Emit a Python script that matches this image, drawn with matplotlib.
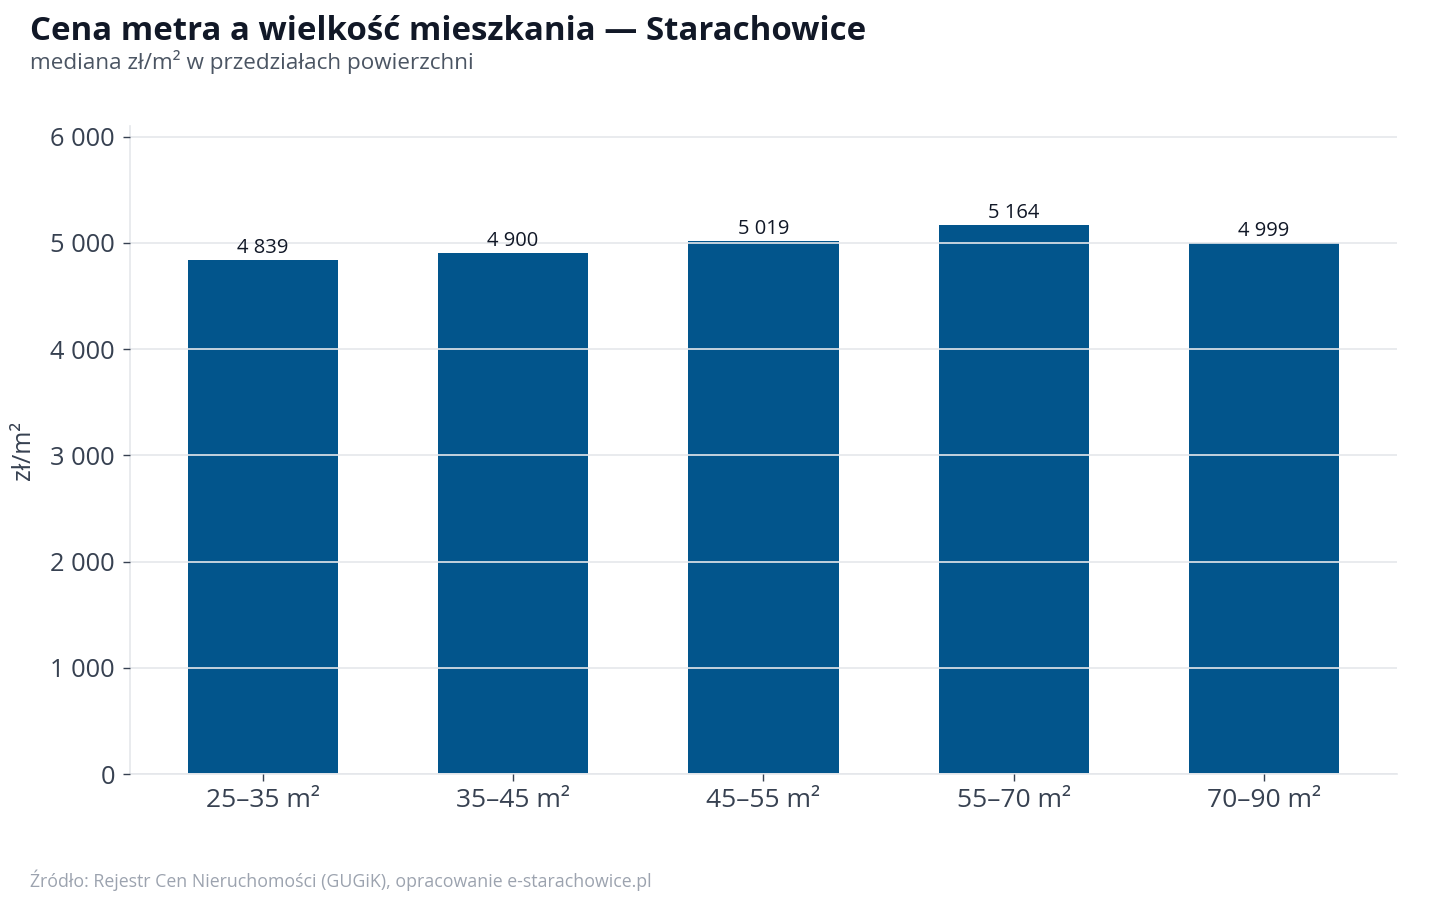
import matplotlib.pyplot as plt
from matplotlib.ticker import FuncFormatter

plt.rcParams['font.family'] = ['Open Sans', 'DejaVu Sans']

# data
categories = ['25–35 m²', '35–45 m²', '45–55 m²', '55–70 m²', '70–90 m²']
median_price = [4839, 4900, 5019, 5164, 4999]
y_ticks = [0, 1000, 2000, 3000, 4000, 5000, 6000]

bar_color = '#02558c'
grid_color = '#e5e7eb'
text_dark = '#111827'
text_mid = '#374151'


def fmt_pl(v, pos=None):
    return f'{int(round(v)):,}'.replace(',', ' ')


fig = plt.figure(figsize=(14.4, 9), dpi=100)
ax = fig.add_axes([0.0903, 0.14, 0.8797, 0.72])

x = range(len(categories))
bars = ax.bar(x, median_price, width=0.6, color=bar_color, zorder=1)

# grid on top of bars
ax.set_axisbelow(False)
ax.yaxis.grid(True, color=grid_color, linewidth=1.2, zorder=2)
ax.xaxis.grid(False)

for rect, v in zip(bars, median_price):
    ax.text(rect.get_x() + rect.get_width() / 2, v + 20, fmt_pl(v),
            ha='center', va='bottom', fontsize=14.5, color=text_dark, zorder=3)

ax.set_xlim(-0.53, 4.53)
ax.set_ylim(0, 6100)
ax.set_yticks(y_ticks)
ax.yaxis.set_major_formatter(FuncFormatter(fmt_pl))
ax.set_xticks(list(x))
ax.set_xticklabels(categories)

ax.tick_params(axis='both', colors=text_mid, labelsize=18, length=5, width=1)
ax.tick_params(axis='x', pad=5, labelsize=19)
ax.tick_params(axis='y', pad=6, labelsize=18.3)
for side in ['top', 'right']:
    ax.spines[side].set_visible(False)
for side in ['left', 'bottom']:
    ax.spines[side].set_color(grid_color)
    ax.spines[side].set_linewidth(1.2)

ax.set_ylabel('zł/m²', fontsize=18, color=text_mid, labelpad=10)

fig.text(0.0208, 0.9645, 'Cena metra a wielkość mieszkania — Starachowice',
         fontsize=23.8, fontweight='bold', color=text_dark, va='center', ha='left')
fig.text(0.0208, 0.9315, 'mediana zł/m² w przedziałach powierzchni',
         fontsize=16.2, color='#4b5563', va='center', ha='left')
fig.text(0.0208, 0.022, 'Źródło: Rejestr Cen Nieruchomości (GUGiK), opracowanie e-starachowice.pl',
         fontsize=12.8, color='#9ca3af', va='center', ha='left')

fig.savefig('out.png', dpi=100)
